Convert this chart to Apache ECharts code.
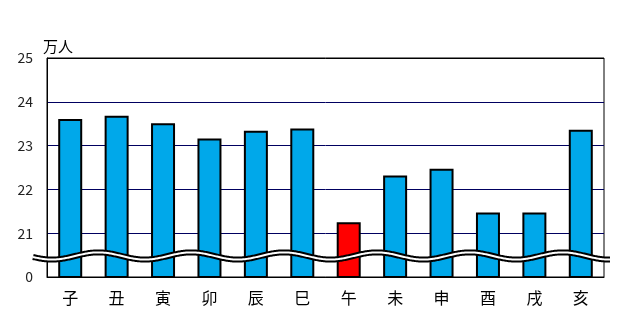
<!DOCTYPE html>
<html><head><meta charset="utf-8">
<script src="https://cdn.jsdelivr.net/npm/echarts@6/dist/echarts.min.js"></script>
<style>html,body{margin:0;padding:0;background:#fff}#c{width:624px;height:317px}</style>
</head><body><div id="c"></div>
<script>
var categories = ['子','丑','寅','卯','辰','巳','午','未','申','酉','戌','亥'];
var values = [23.61, 23.68, 23.51, 23.16, 23.34, 23.39, 21.25, 22.32, 22.47, 21.47, 21.47, 23.36];
var highlightIndex = 6;
var yTicks = {20:'0',21:'21',22:'22',23:'23',24:'24',25:'25'};
var unitLabel = '万人';

var FONT = '"Noto Sans CJK JP", "Noto Sans", sans-serif';
var chart = echarts.init(document.getElementById('c'), null, {renderer:'canvas'});
var option = {
  backgroundColor:'#fff',
  animation:false,
  title:{text:unitLabel,left:38,top:34,textStyle:{fontFamily:FONT,fontSize:15,fontWeight:'normal',color:'#000'}},
  grid:{left:47,right:20,top:58,bottom:40,show:true,borderColor:'#000',borderWidth:1,backgroundColor:'transparent'},
  xAxis:{type:'category',data:categories,
    axisLine:{lineStyle:{color:'#000',width:1}},axisTick:{show:false},
    axisLabel:{fontFamily:FONT,fontSize:16,color:'#000',margin:13}},
  yAxis:{type:'value',min:20,max:25,interval:1,
    axisLine:{show:true,lineStyle:{color:'#000',width:1}},axisTick:{show:false},
    axisLabel:{fontFamily:FONT,fontSize:14,color:'#222',margin:14,formatter:function(v){return yTicks[v]!==undefined?yTicks[v]:'';}},
    splitLine:{show:true,lineStyle:{color:['#000','#000060','#000060','#000060','#000060','#000'],width:1}}},
  series:[{type:'bar',barWidth:24,
    data:values.map(function(v,i){return {value:v,itemStyle:{color:i===highlightIndex?'#ff0000':'#00a8ea'}};}),
    itemStyle:{borderColor:'#000',borderWidth:2}}]
};
chart.setOption(option);

// axis break wave
var c0 = chart.convertToPixel({xAxisIndex:0}, 0);
var c1 = chart.convertToPixel({xAxisIndex:0}, 1);
var cw = c1 - c0;
var left0 = c0 - cw/2;
var ymid = chart.convertToPixel({yAxisIndex:0}, 20.48);
var xs = left0 - 14, xe = left0 + cw*12 + 6;
var period = cw*2;
var crestX = left0 + cw + 5;
var pts = [];
for (var x = xs; x <= xe; x += 1) {
  pts.push([x, ymid - 3.6*Math.cos(2*Math.PI*(x-crestX)/period)]);
}
chart.setOption({graphic:[
  {type:'polyline',shape:{points:pts},style:{stroke:'#000',lineWidth:6,fill:null},z:100},
  {type:'polyline',shape:{points:pts},style:{stroke:'#fff',lineWidth:2,fill:null},z:101}
]});
</script></body></html>
